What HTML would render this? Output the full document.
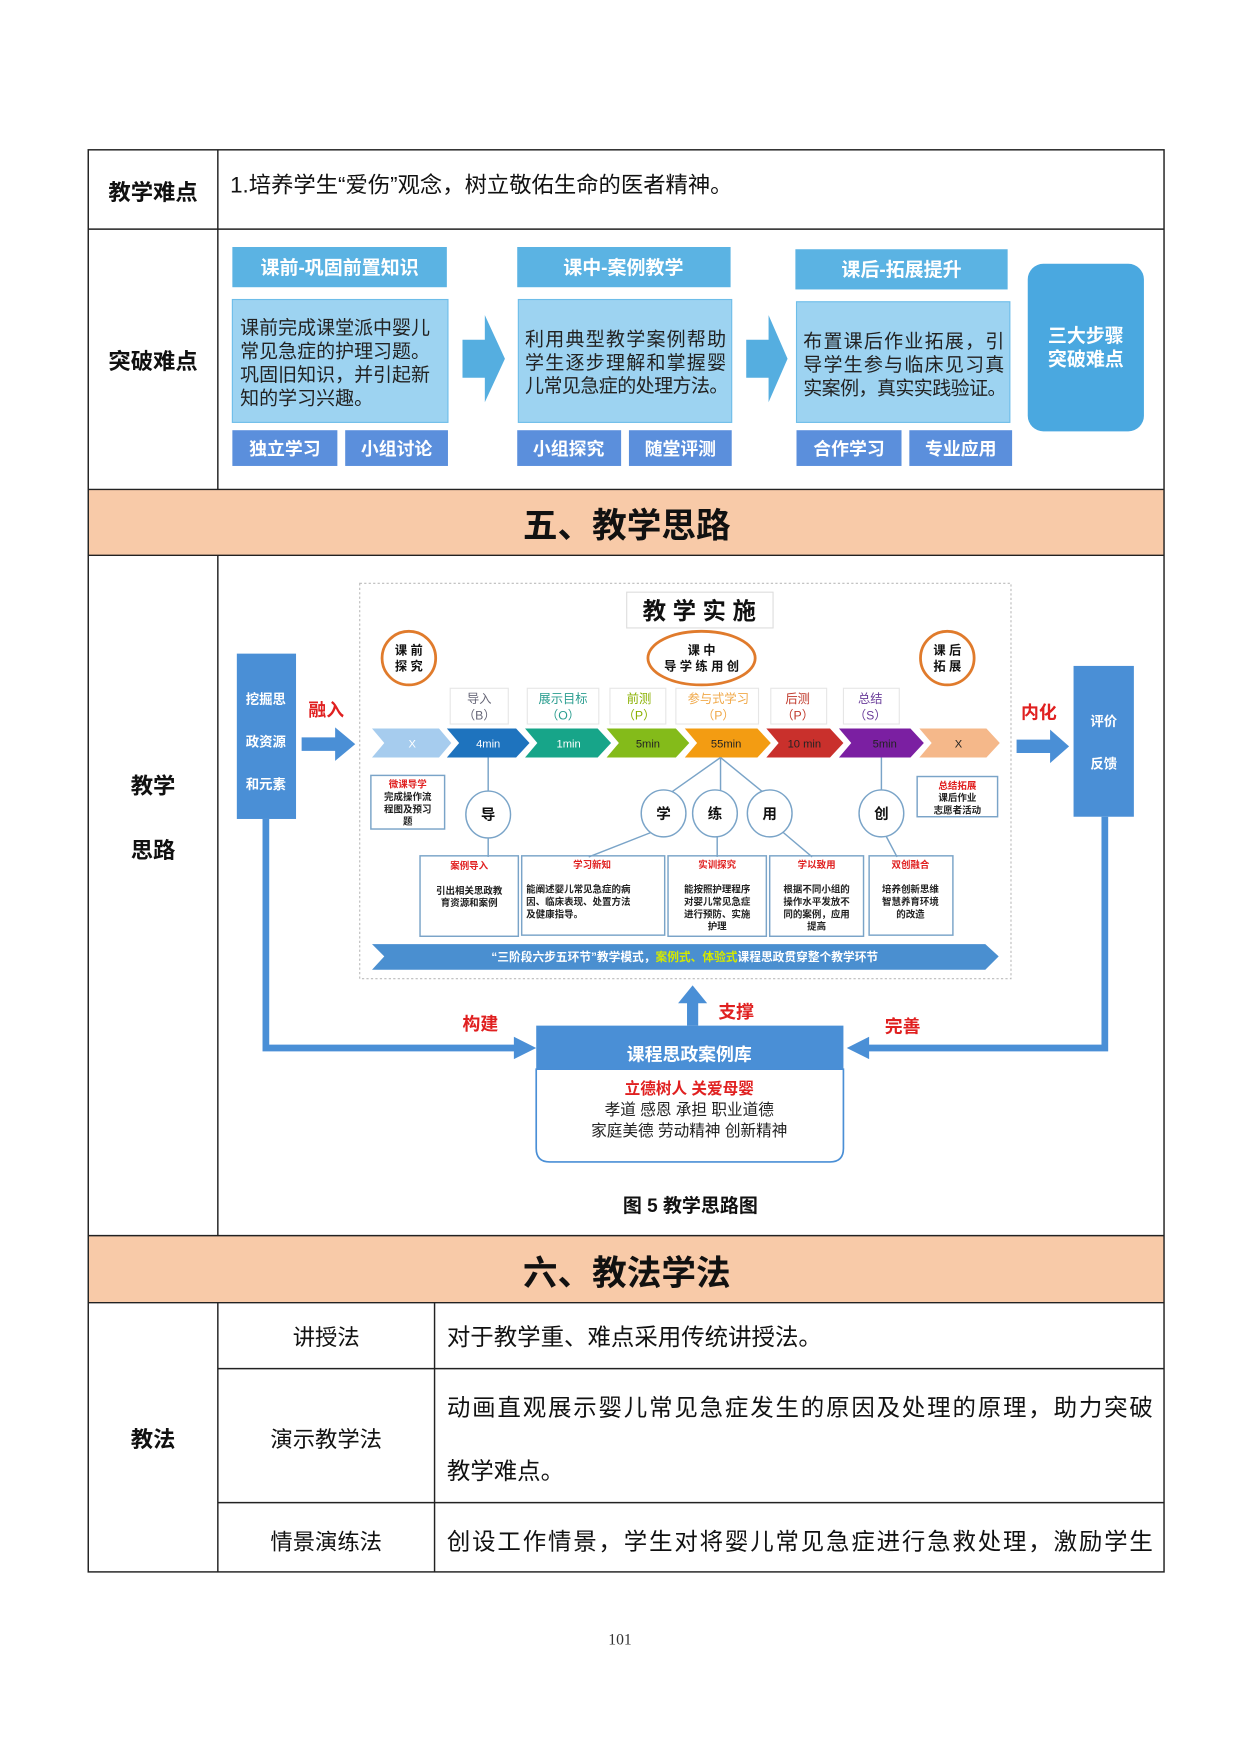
<!DOCTYPE html>
<html><head><meta charset="utf-8"><style>
html,body{margin:0;padding:0;background:#fff;}
svg{display:block;}
text{font-family:"Liberation Sans","Noto Sans CJK SC",sans-serif;}
</style></head><body>
<svg width="1240" height="1753" viewBox="0 0 1110 1569" xmlns="http://www.w3.org/2000/svg">
<rect width="1110" height="1569" fill="#fff"/>
<rect x="79" y="438" width="963" height="59" fill="#f8caa8"/>
<rect x="79" y="1106" width="963" height="60" fill="#f8caa8"/>
<g stroke="#222" stroke-width="1.3" fill="none">
<rect x="79" y="134" width="963" height="1273"/>
<line x1="79" y1="205" x2="1042" y2="205"/>
<line x1="79" y1="438" x2="1042" y2="438"/>
<line x1="79" y1="497" x2="1042" y2="497"/>
<line x1="79" y1="1106" x2="1042" y2="1106"/>
<line x1="79" y1="1166" x2="1042" y2="1166"/>
<line x1="195" y1="1225" x2="1042" y2="1225"/>
<line x1="195" y1="1345" x2="1042" y2="1345"/>
<line x1="195" y1="134" x2="195" y2="438"/>
<line x1="195" y1="497" x2="195" y2="1106"/>
<line x1="195" y1="1166" x2="195" y2="1407"/>
<line x1="389" y1="1166" x2="389" y2="1407"/>
</g>
<g font-size="20" fill="#111">
<text x="137" y="179" text-anchor="middle" font-weight="bold">教学难点</text>
<text x="206" y="172">1.培养学生“爱伤”观念，树立敬佑生命的医者精神。</text>
<text x="137" y="330" text-anchor="middle" font-weight="bold">突破难点</text>
<text x="137" y="710" text-anchor="middle" font-weight="bold">教学</text>
<text x="137" y="768" text-anchor="middle" font-weight="bold">思路</text>
<text x="137" y="1295" text-anchor="middle" font-weight="bold">教法</text>
<text x="292" y="1204" text-anchor="middle">讲授法</text>
<text x="292" y="1295" text-anchor="middle">演示教学法</text>
<text x="292" y="1387" text-anchor="middle">情景演练法</text>
<text x="400" y="1204" font-size="21">对于教学重、难点采用传统讲授法。</text>
<text x="400" y="1267" font-size="21" textLength="632">动画直观展示婴儿常见急症发生的原因及处理的原理，助力突破</text>
<text x="400" y="1324" font-size="21">教学难点。</text>
<text x="400" y="1387" font-size="21" textLength="632">创设工作情景，学生对将婴儿常见急症进行急救处理，激励学生</text>
</g>
<text x="561" y="481" text-anchor="middle" font-size="31" font-weight="bold" fill="#111">五、教学思路</text>
<text x="561" y="1150" text-anchor="middle" font-size="31" font-weight="bold" fill="#111">六、教法学法</text>
<text x="555" y="1472" text-anchor="middle" font-size="14" fill="#333" style="font-family:'Liberation Serif',serif">101</text>

<g>
<rect x="208" y="221" width="192" height="36" fill="#5bb3e3"/>
<rect x="463" y="221" width="191" height="36" fill="#5bb3e3"/>
<rect x="712" y="223" width="190" height="36" fill="#5bb3e3"/>
<g fill="#fff" font-size="17" font-weight="bold" text-anchor="middle">
<text x="304" y="245">课前-巩固前置知识</text>
<text x="558" y="245">课中-案例教学</text>
<text x="807" y="247">课后-拓展提升</text>
</g>
<rect x="208" y="268" width="193" height="110" fill="#9dd3f1" stroke="#6dbde9"/>
<rect x="464" y="268" width="191" height="110" fill="#9dd3f1" stroke="#6dbde9"/>
<rect x="713" y="270" width="191" height="108" fill="#9dd3f1" stroke="#6dbde9"/>
<g font-size="17" fill="#222">
<text x="215" y="299">课前完成课堂派中婴儿</text>
<text x="215" y="320">常见急症的护理习题。</text>
<text x="215" y="341">巩固旧知识，并引起新</text>
<text x="215" y="362">知的学习兴趣。</text>
<text x="470" y="309" textLength="180">利用典型教学案例帮助</text>
<text x="470" y="330" textLength="180">学生逐步理解和掌握婴</text>
<text x="470" y="351" textLength="182">儿常见急症的处理方法。</text>
<text x="719" y="311" textLength="180">布置课后作业拓展，引</text>
<text x="719" y="332" textLength="180">导学生参与临床见习真</text>
<text x="719" y="353" textLength="182">实案例，真实实践验证。</text>
</g>
<g fill="#5b8fdc">
<rect x="208" y="385" width="94" height="32"/><rect x="309" y="385" width="92" height="32"/>
<rect x="463" y="385" width="93" height="32"/><rect x="563" y="385" width="92" height="32"/>
<rect x="713" y="385" width="94" height="32"/><rect x="814" y="385" width="92" height="32"/>
</g>
<g fill="#fff" font-size="16" font-weight="bold" text-anchor="middle">
<text x="255" y="407">独立学习</text><text x="355" y="407">小组讨论</text>
<text x="509" y="407">小组探究</text><text x="609" y="407">随堂评测</text>
<text x="760" y="407">合作学习</text><text x="860" y="407">专业应用</text>
</g>
<polygon points="414,304 434,304 434,282 452,321 434,360 434,338 414,338" fill="#55aee0"/>
<polygon points="668,304 688,304 688,282 705,321 688,360 688,338 668,338" fill="#55aee0"/>
<rect x="920" y="236" width="104" height="150" rx="14" fill="#4aa8e0"/>
<text x="972" y="306" text-anchor="middle" fill="#fff" font-size="17" font-weight="bold">三大步骤</text>
<text x="972" y="327" text-anchor="middle" fill="#fff" font-size="17" font-weight="bold">突破难点</text>
</g>

<rect x="322" y="522" width="583" height="354" fill="#fff" stroke="#bbb" stroke-dasharray="2,2"/>
<rect x="561" y="530" width="131" height="32" fill="#fff" stroke="#ddd"/>
<text x="626" y="554" text-anchor="middle" font-size="21" font-weight="bold" fill="#111">教 学 实 施</text>
<g fill="none" stroke="#e07b2c" stroke-width="2.5">
<ellipse cx="366" cy="589" rx="24" ry="24"/>
<ellipse cx="628" cy="589" rx="48" ry="24"/>
<ellipse cx="848" cy="589" rx="24" ry="24"/>
</g>
<g font-size="11" font-weight="bold" fill="#111" text-anchor="middle">
<text x="366" y="586">课 前</text><text x="366" y="600">探 究</text>
<text x="628" y="586">课 中</text><text x="628" y="600">导 学 练 用 创</text>
<text x="848" y="586">课 后</text><text x="848" y="600">拓 展</text>
</g>
<g fill="none" stroke="#e6e6e6">
<rect x="403" y="616" width="52" height="32"/><rect x="472" y="616" width="64" height="32"/>
<rect x="546" y="616" width="50" height="32"/><rect x="605" y="616" width="74" height="32"/>
<rect x="690" y="616" width="50" height="32"/><rect x="755" y="616" width="50" height="32"/>
</g>
<g font-size="11" text-anchor="middle">
<text x="429" y="629" fill="#667">导入</text><text x="429" y="644" fill="#667">（B）</text>
<text x="504" y="629" fill="#2a9d8f">展示目标</text><text x="504" y="644" fill="#2a9d8f">（O）</text>
<text x="572" y="629" fill="#8ab000">前测</text><text x="572" y="644" fill="#8ab000">（P）</text>
<text x="643" y="629" fill="#f0a848">参与式学习</text><text x="643" y="644" fill="#f0a848">（P）</text>
<text x="714" y="629" fill="#c0392b">后测</text><text x="714" y="644" fill="#c0392b">（P）</text>
<text x="779" y="629" fill="#6a3d9a">总结</text><text x="779" y="644" fill="#6a3d9a">（S）</text>
</g>
<g>
<polygon points="333,652 393,652 404,665 393,678 333,678 344,665" fill="#a6ccee"/>
<polygon points="400,652 462,652 474,665 462,678 400,678 411,665" fill="#1e73be"/>
<polygon points="470,652 535,652 547,665 535,678 470,678 481,665" fill="#17a589"/>
<polygon points="543,652 605,652 617,665 605,678 543,678 554,665" fill="#84bb1a"/>
<polygon points="613,652 678,652 690,665 678,678 613,678 624,665" fill="#f39c12"/>
<polygon points="686,652 743,652 755,665 743,678 686,678 697,665" fill="#c9302c"/>
<polygon points="751,652 815,652 827,665 815,678 751,678 762,665" fill="#7b1fa2"/>
<polygon points="823,652 883,652 895,665 883,678 823,678 834,665" fill="#f5b88a"/>
</g>
<g font-size="10" text-anchor="middle" fill="#fff">
<text x="369" y="669">X</text><text x="437" y="669">4min</text><text x="509" y="669">1min</text>
<text x="580" y="669" fill="#222">5min</text><text x="650" y="669" fill="#222">55min</text>
<text x="720" y="669" fill="#222">10 min</text><text x="792" y="669" fill="#222">5min</text>
<text x="858" y="669" fill="#222">X</text>
</g>
<g stroke="#7aa4c8" stroke-width="1.3" fill="none">
<line x1="437" y1="678" x2="437" y2="709"/><line x1="437" y1="749" x2="437" y2="767"/>
<line x1="645" y1="678" x2="601" y2="709"/><line x1="645" y1="678" x2="645" y2="709"/><line x1="645" y1="678" x2="683" y2="709"/>
<line x1="789" y1="678" x2="789" y2="708"/>
<line x1="583" y1="745" x2="527" y2="767"/><line x1="642" y1="749" x2="642" y2="767"/>
<line x1="701" y1="745" x2="727" y2="767"/><line x1="793" y1="748" x2="803" y2="767"/>
<ellipse cx="437" cy="729" rx="20" ry="21" fill="#fff"/>
<ellipse cx="594" cy="728" rx="20" ry="21" fill="#fff"/>
<ellipse cx="640" cy="728" rx="20" ry="21" fill="#fff"/>
<ellipse cx="689" cy="728" rx="20" ry="21" fill="#fff"/>
<ellipse cx="789" cy="728" rx="20" ry="21" fill="#fff"/>
<rect x="332" y="694" width="66" height="48"/>
<rect x="821" y="695" width="72" height="36"/>
<rect x="376" y="766" width="88" height="72"/>
<rect x="467" y="766" width="128" height="71"/>
<rect x="598" y="766" width="88" height="72"/>
<rect x="689" y="766" width="84" height="72"/>
<rect x="778" y="766" width="75" height="71"/>
</g>
<g font-size="13" font-weight="bold" fill="#111" text-anchor="middle">
<text x="437" y="734">导</text><text x="594" y="733">学</text><text x="640" y="733">练</text><text x="689" y="733">用</text><text x="789" y="733">创</text>
</g>
<g font-size="8.5" font-weight="bold" text-anchor="middle" fill="#222">
<text x="365" y="705" fill="#e02020">微课导学</text><text x="365" y="716">完成操作流</text><text x="365" y="727">程图及预习</text><text x="365" y="738">题</text>
<text x="857" y="706" fill="#e02020">总结拓展</text><text x="857" y="717">课后作业</text><text x="857" y="728">志愿者活动</text>
<text x="420" y="778" fill="#e02020">案例导入</text><text x="420" y="800">引出相关思政教</text><text x="420" y="811">育资源和案例</text>
<text x="530" y="777" fill="#e02020">学习新知</text>
<text x="642" y="777" fill="#e02020">实训探究</text>
<text x="731" y="777" fill="#e02020">学以致用</text><text x="731" y="799">根据不同小组的</text><text x="731" y="810">操作水平发放不</text><text x="731" y="821">同的案例，应用</text><text x="731" y="832">提高</text>
<text x="815" y="777" fill="#e02020">双创融合</text><text x="815" y="799">培养创新思维</text><text x="815" y="810">智慧养育环境</text><text x="815" y="821">的改造</text>
<text x="642" y="799">能按照护理程序</text><text x="642" y="810">对婴儿常见急症</text><text x="642" y="821">进行预防、实施</text><text x="642" y="832">护理</text>
</g>
<g font-size="8.5" font-weight="bold" fill="#222">
<text x="471" y="799">能阐述婴儿常见急症的病</text><text x="471" y="810">因、临床表现、处置方法</text><text x="471" y="821">及健康指导。</text>
</g>
<polygon points="333,845 882,845 894,856 882,868 333,868 344,856" fill="#4a8fd0"/>
<text x="613" y="860" text-anchor="middle" font-size="10.5" font-weight="bold" fill="#fff">“三阶段六步五环节”教学模式，<tspan fill="#d4e800">案例式、体验式</tspan>课程思政贯穿整个教学环节</text>

<rect x="212" y="585" width="53" height="148" fill="#4a8fd6"/>
<g fill="#fff" font-size="12" font-weight="bold" text-anchor="middle">
<text x="238" y="630">挖掘思</text><text x="238" y="668">政资源</text><text x="238" y="706">和元素</text>
</g>
<rect x="961" y="596" width="54" height="135" fill="#4a8fd6"/>
<g fill="#fff" font-size="12" font-weight="bold" text-anchor="middle">
<text x="988" y="650">评价</text><text x="988" y="688">反馈</text>
</g>
<g fill="#e02020" font-size="16" font-weight="bold" text-anchor="middle">
<text x="292" y="641">融入</text><text x="930" y="643">内化</text>
<text x="430" y="922">构建</text><text x="659" y="911">支撑</text><text x="808" y="924">完善</text>
</g>
<polygon points="270,660 300,660 300,651 318,666 300,681 300,672 270,672" fill="#4a8fd6"/>
<polygon points="910,662 940,662 940,653 957,668 940,683 940,674 910,674" fill="#4a8fd6"/>
<polyline points="238,733 238,938 462,938" fill="none" stroke="#4a8fd6" stroke-width="6"/>
<polygon points="460,928 480,938 460,948" fill="#4a8fd6"/>
<polyline points="989,731 989,938 776,938" fill="none" stroke="#4a8fd6" stroke-width="6"/>
<polygon points="778,928 758,938 778,948" fill="#4a8fd6"/>
<rect x="615" y="896" width="10" height="22" fill="#4a8fd6"/>
<polygon points="607,898 620,882 633,898" fill="#4a8fd6"/>
<path d="M480,957 L755,957 L755,1028 Q755,1040 743,1040 L492,1040 Q480,1040 480,1028 Z" fill="#fff" stroke="#4a8fd6" stroke-width="1.5"/>
<rect x="480" y="918" width="275" height="39" fill="#4a8fd6"/>
<text x="617" y="949" text-anchor="middle" fill="#fff" font-size="16" font-weight="bold">课程思政案例库</text>
<text x="617" y="979" text-anchor="middle" fill="#e02020" font-size="14" font-weight="bold">立德树人  关爱母婴</text>
<text x="617" y="998" text-anchor="middle" fill="#222" font-size="14">孝道  感恩  承担  职业道德</text>
<text x="617" y="1017" text-anchor="middle" fill="#222" font-size="14">家庭美德  劳动精神  创新精神</text>
<text x="618" y="1085" text-anchor="middle" fill="#111" font-size="17" font-weight="bold">图 5  教学思路图</text>
</svg>
</body></html>
